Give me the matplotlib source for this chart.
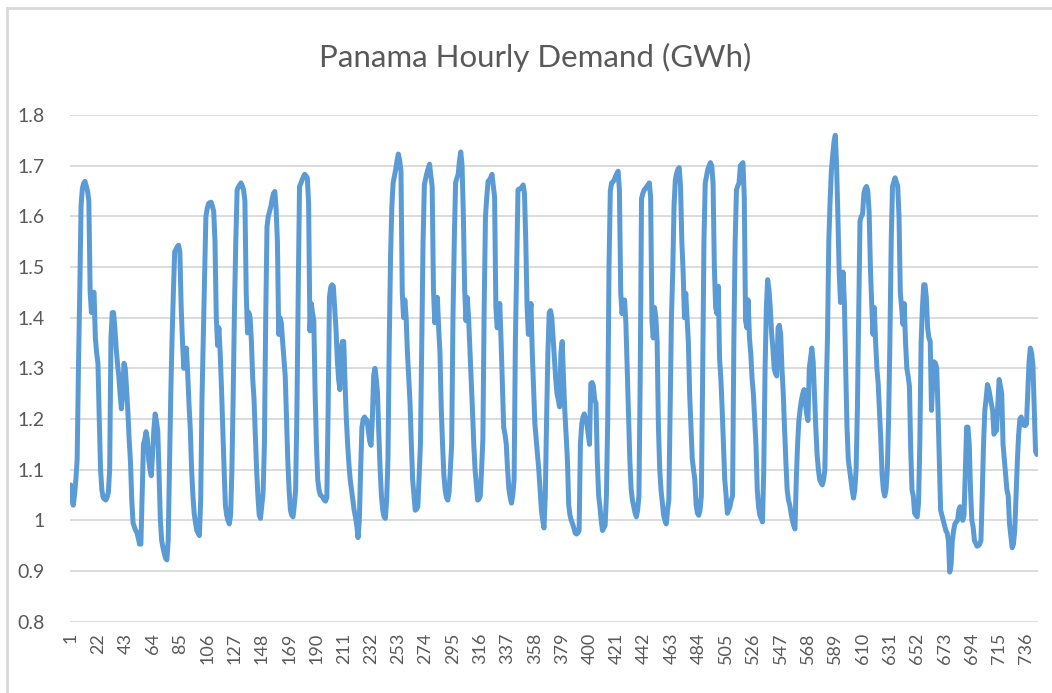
import numpy as np
import matplotlib
matplotlib.use("Agg")
import matplotlib.pyplot as plt
from matplotlib.ticker import FuncFormatter
from matplotlib.lines import Line2D

# hourly demand in GWh, one row per day (24 hours)
week1 = [
    1.07, 1.04, 1.03, 1.05, 1.08, 1.12, 1.30, 1.45, 1.62, 1.655, 1.665, 1.669, 1.66, 1.65, 1.63, 1.45, 1.41, 1.45, 1.45, 1.36, 1.33, 1.31, 1.20, 1.10,
    1.06, 1.045, 1.042, 1.04, 1.045, 1.055, 1.10, 1.36, 1.41, 1.41, 1.38, 1.34, 1.31, 1.285, 1.25, 1.22, 1.25, 1.31, 1.30, 1.26, 1.215, 1.16, 1.116, 1.04,
    0.995, 0.987, 0.98, 0.976, 0.965, 0.953, 0.953, 1.05, 1.15, 1.16, 1.175, 1.16, 1.12, 1.10, 1.088, 1.13, 1.18, 1.21, 1.195, 1.177, 1.09, 1.0, 0.96, 0.946,
    0.935, 0.925, 0.922, 0.96, 1.10, 1.25, 1.36, 1.45, 1.53, 1.535, 1.54, 1.543, 1.53, 1.42, 1.353, 1.30, 1.32, 1.34, 1.29, 1.23, 1.18, 1.10, 1.05, 1.014,
    0.995, 0.98, 0.975, 0.97, 1.04, 1.24, 1.36, 1.48, 1.60, 1.615, 1.625, 1.627, 1.628, 1.62, 1.61, 1.55, 1.40, 1.345, 1.38, 1.33, 1.26, 1.18, 1.10, 1.03,
    1.01, 1.0, 0.993, 1.01, 1.10, 1.25, 1.42, 1.55, 1.652, 1.658, 1.662, 1.666, 1.66, 1.652, 1.63, 1.45, 1.37, 1.41, 1.40, 1.353, 1.28, 1.24, 1.17, 1.10,
    1.048, 1.01, 1.004, 1.03, 1.055, 1.15, 1.40, 1.58, 1.60, 1.61, 1.62, 1.635, 1.645, 1.649, 1.615, 1.55, 1.367, 1.40, 1.39, 1.353, 1.32, 1.285, 1.20, 1.116,
]
week2 = [
    1.06, 1.02, 1.01, 1.007, 1.03, 1.06, 1.217, 1.45, 1.659, 1.665, 1.672, 1.678, 1.683, 1.68, 1.676, 1.625, 1.374, 1.428, 1.41, 1.394, 1.25, 1.15, 1.08, 1.06,
    1.05, 1.048, 1.045, 1.04, 1.038, 1.045, 1.217, 1.44, 1.46, 1.465, 1.462, 1.42, 1.38, 1.32, 1.28, 1.258, 1.34, 1.353, 1.353, 1.27, 1.20, 1.15, 1.11, 1.08,
    1.06, 1.04, 1.02, 1.007, 0.99, 0.966, 1.0, 1.10, 1.184, 1.20, 1.204, 1.20, 1.197, 1.175, 1.156, 1.148, 1.20, 1.285, 1.30, 1.28, 1.25, 1.17, 1.10, 1.048,
    1.02, 1.007, 1.004, 1.04, 1.12, 1.35, 1.52, 1.62, 1.666, 1.68, 1.693, 1.71, 1.723, 1.71, 1.69, 1.45, 1.40, 1.435, 1.40, 1.33, 1.28, 1.231, 1.15, 1.08,
    1.05, 1.02, 1.022, 1.027, 1.09, 1.15, 1.35, 1.55, 1.662, 1.675, 1.686, 1.695, 1.703, 1.68, 1.659, 1.455, 1.39, 1.42, 1.44, 1.38, 1.33, 1.22, 1.15, 1.09,
    1.06, 1.045, 1.04, 1.055, 1.10, 1.15, 1.40, 1.55, 1.666, 1.675, 1.683, 1.71, 1.727, 1.70, 1.60, 1.455, 1.394, 1.44, 1.40, 1.34, 1.28, 1.217, 1.15, 1.10,
    1.07, 1.04, 1.042, 1.048, 1.10, 1.16, 1.42, 1.60, 1.638, 1.669, 1.672, 1.676, 1.683, 1.66, 1.638, 1.42, 1.38, 1.40, 1.428, 1.353, 1.27, 1.184, 1.17, 1.15,
]
week3 = [
    1.10, 1.062, 1.045, 1.034, 1.05, 1.08, 1.353, 1.50, 1.652, 1.654, 1.655, 1.658, 1.662, 1.645, 1.55, 1.42, 1.367, 1.40, 1.428, 1.33, 1.26, 1.19, 1.16, 1.13,
    1.10, 1.06, 1.02, 1.0, 0.985, 1.05, 1.20, 1.33, 1.41, 1.414, 1.40, 1.36, 1.32, 1.28, 1.25, 1.238, 1.224, 1.33, 1.353, 1.28, 1.217, 1.17, 1.12, 1.03,
    1.01, 1.0, 0.993, 0.985, 0.975, 0.973, 0.975, 0.98, 1.15, 1.19, 1.204, 1.21, 1.20, 1.19, 1.17, 1.15, 1.27, 1.272, 1.265, 1.238, 1.231, 1.116, 1.05, 1.027,
    1.0, 0.98, 0.985, 0.99, 1.048, 1.20, 1.50, 1.65, 1.666, 1.668, 1.672, 1.679, 1.684, 1.689, 1.652, 1.45, 1.408, 1.43, 1.435, 1.387, 1.30, 1.217, 1.12, 1.062,
    1.04, 1.027, 1.015, 1.007, 1.02, 1.048, 1.285, 1.635, 1.645, 1.652, 1.655, 1.659, 1.662, 1.666, 1.638, 1.394, 1.36, 1.42, 1.40, 1.353, 1.184, 1.10, 1.06, 1.034,
    1.01, 1.0, 0.993, 1.02, 1.04, 1.217, 1.40, 1.49, 1.62, 1.672, 1.685, 1.693, 1.696, 1.659, 1.55, 1.49, 1.40, 1.448, 1.40, 1.353, 1.25, 1.184, 1.122, 1.10,
    1.08, 1.03, 1.014, 1.01, 1.02, 1.048, 1.285, 1.55, 1.666, 1.68, 1.693, 1.70, 1.706, 1.70, 1.666, 1.50, 1.42, 1.408, 1.462, 1.32, 1.28, 1.22, 1.15, 1.08,
]
week4 = [
    1.05, 1.014, 1.02, 1.027, 1.04, 1.048, 1.353, 1.55, 1.652, 1.66, 1.666, 1.70, 1.703, 1.706, 1.638, 1.394, 1.38, 1.435, 1.36, 1.33, 1.28, 1.25, 1.20, 1.15,
    1.06, 1.027, 1.01, 1.004, 0.997, 1.10, 1.30, 1.42, 1.475, 1.455, 1.42, 1.37, 1.34, 1.30, 1.29, 1.285, 1.38, 1.385, 1.367, 1.30, 1.25, 1.18, 1.116, 1.06,
    1.04, 1.03, 1.014, 1.0, 0.99, 0.983, 1.08, 1.15, 1.197, 1.22, 1.238, 1.25, 1.258, 1.231, 1.21, 1.197, 1.30, 1.32, 1.34, 1.313, 1.25, 1.184, 1.13, 1.10,
    1.08, 1.075, 1.07, 1.08, 1.10, 1.25, 1.36, 1.55, 1.63, 1.69, 1.72, 1.747, 1.76, 1.70, 1.60, 1.49, 1.43, 1.45, 1.49, 1.43, 1.30, 1.184, 1.12, 1.10,
    1.08, 1.06, 1.044, 1.06, 1.10, 1.22, 1.40, 1.59, 1.60, 1.604, 1.645, 1.655, 1.659, 1.65, 1.61, 1.50, 1.428, 1.367, 1.42, 1.353, 1.30, 1.27, 1.217, 1.16,
    1.09, 1.06, 1.048, 1.06, 1.10, 1.20, 1.353, 1.55, 1.659, 1.668, 1.676, 1.668, 1.659, 1.60, 1.45, 1.42, 1.387, 1.428, 1.353, 1.30, 1.285, 1.265, 1.14, 1.06,
    1.048, 1.014, 1.01, 1.007, 1.034, 1.15, 1.35, 1.42, 1.465, 1.465, 1.44, 1.38, 1.36, 1.353, 1.217, 1.28, 1.313, 1.31, 1.30, 1.217, 1.116, 1.02, 1.01, 1.0,
]
week5 = [
    0.99, 0.98, 0.975, 0.96, 0.898, 0.911, 0.96, 0.98, 0.993, 0.997, 1.0, 1.02, 1.027, 1.02, 1.0, 1.01, 1.10, 1.184, 1.184, 1.15, 1.06, 1.0, 0.987, 0.96,
    0.955, 0.949, 0.95, 0.953, 0.96, 1.05, 1.15, 1.217, 1.24, 1.268, 1.26, 1.245, 1.23, 1.217, 1.17, 1.175, 1.177, 1.23, 1.278, 1.265, 1.25, 1.15, 1.12, 1.088,
    1.06, 1.048, 0.993, 0.97, 0.946, 0.953, 0.98, 1.05, 1.116, 1.17, 1.20, 1.204, 1.19, 1.188, 1.187, 1.19, 1.25, 1.313, 1.34, 1.33, 1.305, 1.217, 1.136, 1.13,
]

demand = np.array(week1 + week2 + week3 + week4 + week5)
hours = np.arange(1, len(demand) + 1)
tick_hours = list(range(1, len(demand) + 1, 21))

title_color = "#595959"
grid_color = "#D9D9D9"
fonts = ["Lato", "DejaVu Sans"]

fig = plt.figure(figsize=(10.52, 6.93), dpi=100)
ax = fig.add_axes([70 / 1052, 1 - 621.7 / 693, 967.5 / 1052, 506.7 / 693])

ax.plot(hours, demand, color="#5B9BD5", linewidth=3.6, solid_joinstyle="round", solid_capstyle="round")

ax.set_xlim(0.5, len(demand) + 0.5)
ax.set_ylim(0.8, 1.8)
ax.set_yticks(np.arange(0.8, 1.81, 0.1))
ax.yaxis.set_major_formatter(FuncFormatter(lambda v, p: "%g" % round(v, 1)))
ax.set_xticks(tick_hours)
ax.set_xticklabels([str(h) for h in tick_hours], rotation=90, ha="center", va="top")

ax.grid(axis="y", color=grid_color, linewidth=1.3)
ax.set_axisbelow(True)
for s in ax.spines.values():
    s.set_visible(False)
ax.tick_params(axis="both", length=0, colors=title_color)
ax.tick_params(axis="y", pad=18)
ax.tick_params(axis="x", pad=8)
for lab in ax.get_yticklabels():
    lab.set_fontfamily(fonts)
    lab.set_fontsize(14)
for lab in ax.get_xticklabels():
    lab.set_fontfamily(fonts)
    lab.set_fontsize(13)

fig.text(535 / 1052, 1 - 67 / 693, "Panama Hourly Demand (GWh)", ha="center", va="baseline",
         fontsize=22.5, color=title_color, family=fonts)

# chart area border (top and left edges are visible in the original)
fig.add_artist(Line2D([7 / 1052, 1], [1 - 8 / 693, 1 - 8 / 693], color=grid_color, linewidth=2))
fig.add_artist(Line2D([7 / 1052, 7 / 1052], [0, 1 - 8 / 693], color=grid_color, linewidth=2))

plt.savefig("out.png", dpi=100)
